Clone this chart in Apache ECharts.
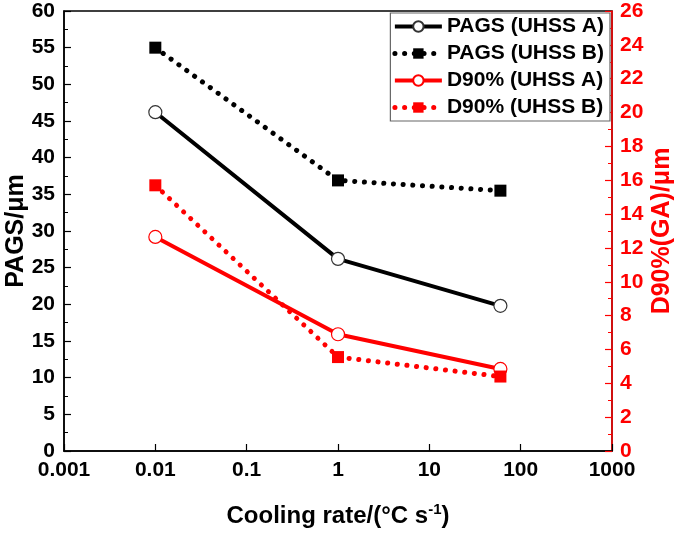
<!DOCTYPE html>
<html><head><meta charset="utf-8">
<script src="https://cdn.jsdelivr.net/npm/echarts@6/dist/echarts.min.js"></script>
<style>html,body{margin:0;padding:0;background:#fff}#c{width:685px;height:535px}</style>
</head><body><div id="c"></div>
<script>
const coolingRates = [0.01, 1, 60];
const pagsA = [46.2, 26.2, 19.8];
const pagsB = [55.0, 36.9, 35.5];
const d90A = [12.65, 6.9, 4.85];
const d90B = [15.7, 5.55, 4.4];
const seriesNames = ['PAGS (UHSS A)', 'PAGS (UHSS B)', 'D90% (UHSS A)', 'D90% (UHSS B)'];

const font = 'Liberation Sans, Arial, sans-serif';
const pair = (xs, ys) => xs.map((x, i) => [x, ys[i]]);
const dotted = [0.1, 9.6];

const chart = echarts.init(document.getElementById('c'));
chart.setOption({
  animation: false,
  grid: { left: 64, right: 73, top: 11, bottom: 84, show: true, borderColor: '#000', borderWidth: 1.5,
    containLabel: false, outerBoundsMode: 'none' },
  legend: {
    data: seriesNames,
    right: 75, top: 13, orient: 'vertical',
    backgroundColor: '#fff', borderColor: '#666', borderWidth: 1.2, borderRadius: 0,
    padding: [3, 6, 3, 2], itemGap: 6, itemWidth: 47, itemHeight: 13,
    lineStyle: { width: 'inherit' },
    textStyle: { fontFamily: font, fontWeight: 'bold', fontSize: 21, color: '#000' }
  },
  xAxis: {
    type: 'log', logBase: 10, min: 0.001, max: 1000,
    name: '{a|Cooling rate/(°C s}{s|-1}{a|)}', nameLocation: 'middle', nameGap: 51,
    nameMoveOverlap: false,
    nameTextStyle: { rich: {
      a: { fontFamily: font, fontWeight: 'bold', fontSize: 24, color: '#000' },
      s: { fontFamily: font, fontWeight: 'bold', fontSize: 15, color: '#000', verticalAlign: 'top', padding: [0, 0, 14, 0] }
    } },
    axisLine: { lineStyle: { color: '#000', width: 1.5 } },
    axisTick: { inside: true, length: 7, lineStyle: { color: '#000', width: 1.2 } },
    minorTick: { show: false },
    splitLine: { show: false },
    axisLabel: { fontFamily: font, fontWeight: 'bold', fontSize: 21, color: '#000', margin: 9,
      formatter: v => String(Number(v.toPrecision(3))) }
  },
  yAxis: [{
    type: 'value', min: 0, max: 60, interval: 5, position: 'left',
    name: 'PAGS/μm', nameLocation: 'middle', nameGap: 35, nameRotate: 90, nameMoveOverlap: false,
    nameTextStyle: { fontFamily: font, fontWeight: 'bold', fontSize: 25, color: '#000' },
    axisLine: { show: true, lineStyle: { color: '#000', width: 1.5 } },
    axisTick: { show: true, inside: true, length: 7, lineStyle: { color: '#000', width: 1.2 } },
    minorTick: { show: true, splitNumber: 2, length: 4, lineStyle: { color: '#000', width: 1 } },
    splitLine: { show: false },
    axisLabel: { fontFamily: font, fontWeight: 'bold', fontSize: 21, color: '#000', margin: 9 }
  }, {
    type: 'value', min: 0, max: 26, interval: 2, position: 'right',
    name: 'D90%(GA)/μm', nameLocation: 'middle', nameGap: 38, nameRotate: 90, nameMoveOverlap: false,
    nameTextStyle: { fontFamily: font, fontWeight: 'bold', fontSize: 25, color: '#ff0000' },
    axisLine: { show: true, lineStyle: { color: '#ff0000', width: 1.5 } },
    axisTick: { show: true, inside: true, length: 7, lineStyle: { color: '#ff0000', width: 1.2 } },
    minorTick: { show: true, splitNumber: 2, length: 4, lineStyle: { color: '#ff0000', width: 1 } },
    splitLine: { show: false },
    axisLabel: { fontFamily: font, fontWeight: 'bold', fontSize: 21, color: '#ff0000', margin: 8 }
  }],
  series: [
    { name: seriesNames[0], type: 'line', yAxisIndex: 0, data: pair(coolingRates, pagsA),
      symbol: 'circle', symbolSize: 13, color: '#000',
      itemStyle: { color: '#fff', borderColor: '#333', borderWidth: 1.2 },
      lineStyle: { color: '#000', width: 4 } },
    { name: seriesNames[1], type: 'line', yAxisIndex: 0, data: pair(coolingRates, pagsB),
      symbol: 'rect', symbolSize: 12, color: '#000',
      itemStyle: { color: '#000' },
      lineStyle: { color: '#000', width: 5, type: dotted, cap: 'round' } },
    { name: seriesNames[2], type: 'line', yAxisIndex: 1, data: pair(coolingRates, d90A),
      symbol: 'circle', symbolSize: 13, color: '#ff0000',
      itemStyle: { color: '#fff', borderColor: '#ff0000', borderWidth: 1.2 },
      lineStyle: { color: '#ff0000', width: 4 } },
    { name: seriesNames[3], type: 'line', yAxisIndex: 1, data: pair(coolingRates, d90B),
      symbol: 'rect', symbolSize: 12, color: '#ff0000',
      itemStyle: { color: '#ff0000' },
      lineStyle: { color: '#ff0000', width: 5, type: dotted, cap: 'round' } }
  ]
});
</script></body></html>
